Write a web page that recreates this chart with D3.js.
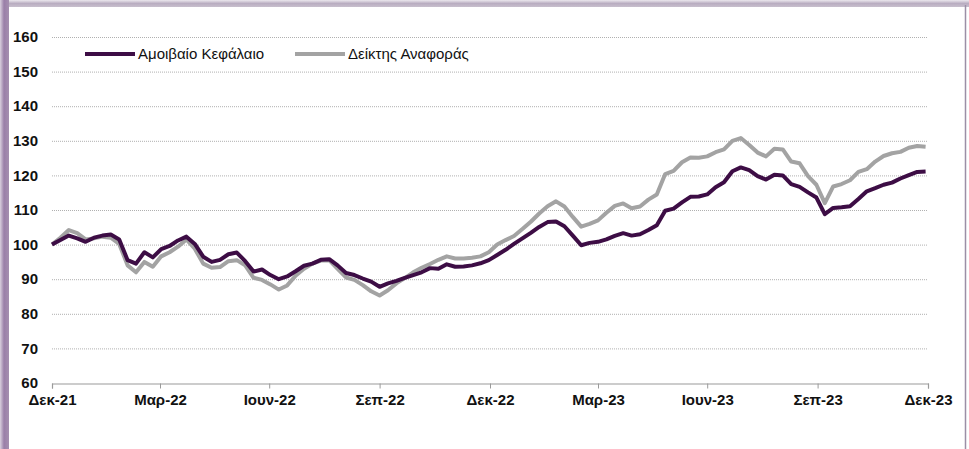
<!DOCTYPE html>
<html>
<head>
<meta charset="utf-8">
<script src="https://cdn.jsdelivr.net/npm/d3@7"></script>
<style>
  body { margin: 0; background: #fff; }
  text { font-family: "Liberation Sans", Arial, sans-serif; }
</style>
</head>
<body>
<svg width="969" height="449"></svg>
<script>
// weekly closes, first week = 31 Dec 2021
var startDate = "2021-12-31";
var fund = [100, 101.3, 102.6, 101.8, 100.8, 102, 102.6, 102.9, 101.5, 95.5,
    94.5, 97.8, 96.3, 98.7, 99.6, 101.2, 102.3, 100.2, 96.5, 95,
    95.6, 97.2, 97.7, 95.2, 92.2, 92.8, 91.2, 90, 90.8, 92.3,
    93.9, 94.5, 95.6, 95.8, 94, 91.8, 91.2, 90.2, 89.3, 87.8,
    88.8, 89.5, 90.4, 91.2, 92, 93.2, 93, 94.3, 93.6, 93.7,
    94, 94.6, 95.5, 97, 98.5, 100.2, 101.8, 103.4, 105.1, 106.5,
    106.7, 105.3, 102.6, 99.8, 100.5, 100.8, 101.5, 102.5, 103.3, 102.6,
    103, 104.2, 105.6, 109.8, 110.4, 112.2, 113.8, 113.9, 114.5, 116.6,
    118, 121.2, 122.3, 121.5, 119.8, 118.8, 120.2, 120, 117.5, 116.7,
    115.1, 113.6, 108.8, 110.6, 110.8, 111.1, 113.2, 115.4, 116.3, 117.3,
    117.9, 119.1, 120.1, 121, 121.1];
var bench = [100, 102, 104.2, 103.3, 101.5, 101.8, 102.3, 102, 100.2, 94,
    92, 95, 93.6, 96.6, 97.8, 99.4, 101.5, 98.8, 94.5, 93.3,
    93.5, 95.2, 95.5, 94, 90.4, 89.8, 88.5, 87, 88.2, 91,
    93, 94.5, 95.4, 95.5, 93, 90.5, 89.8, 88.3, 86.5, 85.3,
    86.8, 88.8, 90.3, 92, 93.3, 94.4, 95.6, 96.6, 96, 96,
    96.2, 96.6, 97.8, 100, 101.3, 102.5, 104.5, 106.6, 109, 111.1,
    112.5, 111, 108, 105.2, 106, 107, 109.2, 111.2, 111.9, 110.5,
    111, 113, 114.5, 120.4, 121.3, 123.8, 125.2, 125.1, 125.5, 126.7,
    127.5, 130, 130.8, 128.8, 126.6, 125.5, 127.7, 127.5, 124, 123.5,
    119.8, 117.3, 112, 116.8, 117.5, 118.6, 121, 121.8, 124, 125.6,
    126.4, 126.8, 128, 128.5, 128.3];
var seriesNames = ["Αμοιβαίο Κεφάλαιο", "Δείκτης Αναφοράς"];
var seriesColors = ["#3d0d45", "#a3a3a3"];
var yTicks = [60, 70, 80, 90, 100, 110, 120, 130, 140, 150, 160];
var xTickDates = ["2021-12-31", "2022-03-31", "2022-06-30", "2022-09-30", "2022-12-31",
    "2023-03-31", "2023-06-30", "2023-09-30", "2023-12-31"];
var monthsGr = ["Ιαν", "Φεβ", "Μαρ", "Απρ", "Μαϊ", "Ιουν", "Ιουλ", "Αυγ", "Σεπ", "Οκτ", "Νοε", "Δεκ"];

var svg = d3.select("svg");
var parse = d3.timeParse("%Y-%m-%d");
var t0 = parse(startDate);
var dates = fund.map(function (d, i) { return d3.timeDay.offset(t0, 7 * i); });

// frame
var defs = svg.append("defs");
var gl = defs.append("linearGradient").attr("id", "gl").attr("x1", 0).attr("x2", 1).attr("y1", 0).attr("y2", 0);
gl.append("stop").attr("offset", 0).attr("stop-color", "#d9d0de");
gl.append("stop").attr("offset", 0.45).attr("stop-color", "#9a7fa8");
gl.append("stop").attr("offset", 1).attr("stop-color", "#a58fb0");
var gt = defs.append("linearGradient").attr("id", "gt").attr("x1", 0).attr("x2", 0).attr("y1", 0).attr("y2", 1);
gt.append("stop").attr("offset", 0).attr("stop-color", "#ece8ee");
gt.append("stop").attr("offset", 0.5).attr("stop-color", "#b9adc1");
gt.append("stop").attr("offset", 1).attr("stop-color", "#c8bfcd");
svg.append("rect").attr("x", 0).attr("y", 0).attr("width", 969).attr("height", 7).attr("fill", "url(#gt)");
svg.append("rect").attr("x", 0).attr("y", 0).attr("width", 9).attr("height", 449).attr("fill", "url(#gl)");
svg.append("line").attr("x1", 965.5).attr("x2", 965.5).attr("y1", 5).attr("y2", 449)
    .attr("stroke", "#9c8fa6").attr("stroke-width", 1.5);

var x = d3.scaleTime()
    .domain([parse(xTickDates[0]), parse(xTickDates[xTickDates.length - 1])])
    .range([52, 928]);
var y = d3.scaleLinear().domain([60, 160]).range([383, 37]);

// gridlines
svg.append("g").selectAll("line")
    .data(yTicks.slice(1))
    .enter().append("line")
    .attr("x1", 52).attr("x2", 928)
    .attr("y1", function (d) { return y(d) + 0.5; })
    .attr("y2", function (d) { return y(d) + 0.5; })
    .attr("stroke", "#b0b0b0")
    .attr("stroke-dasharray", "1,1");

// y labels
svg.append("g").selectAll("text")
    .data(yTicks)
    .enter().append("text")
    .attr("x", 38).attr("y", function (d) { return y(d); })
    .attr("dy", "0.35em")
    .attr("text-anchor", "end")
    .attr("font-size", 15).attr("font-weight", "bold")
    .attr("fill", "#111")
    .text(function (d) { return d; });

// x axis
var xAxis = d3.axisBottom(x)
    .tickValues(xTickDates.map(parse))
    .tickSize(5)
    .tickPadding(6)
    .tickFormat(function (d) {
        return monthsGr[d.getMonth()] + "-" + d3.timeFormat("%y")(d);
    });
var gx = svg.append("g").attr("transform", "translate(0," + (y(60) + 0.5) + ")").call(xAxis);
gx.select(".domain").attr("stroke", "#9a9a9a").attr("stroke-width", 1.2);
gx.selectAll(".tick line").attr("stroke", "#9a9a9a");
gx.selectAll(".tick text")
    .attr("font-family", "Liberation Sans, Arial, sans-serif")
    .attr("font-size", 15).attr("font-weight", "bold").attr("fill", "#111");

// lines
var line = d3.line()
    .x(function (d, i) { return x(dates[i]); })
    .y(function (d) { return y(d); });

svg.append("path").datum(bench)
    .attr("fill", "none").attr("stroke", seriesColors[1])
    .attr("stroke-width", 4).attr("stroke-linejoin", "round")
    .attr("d", line);
svg.append("path").datum(fund)
    .attr("fill", "none").attr("stroke", seriesColors[0])
    .attr("stroke-width", 4).attr("stroke-linejoin", "round")
    .attr("d", line);

// legend
var legendX = [85, 295];
var lg = svg.append("g").selectAll("g")
    .data(seriesNames)
    .enter().append("g")
    .attr("transform", function (d, i) { return "translate(" + legendX[i] + ",54)"; });
lg.append("line").attr("x1", 0).attr("x2", 50)
    .attr("stroke", function (d, i) { return seriesColors[i]; })
    .attr("stroke-width", 4);
lg.append("text").attr("x", 53).attr("dy", "0.35em")
    .attr("font-size", 15).attr("fill", "#111")
    .text(function (d) { return d; });
</script>
</body>
</html>
